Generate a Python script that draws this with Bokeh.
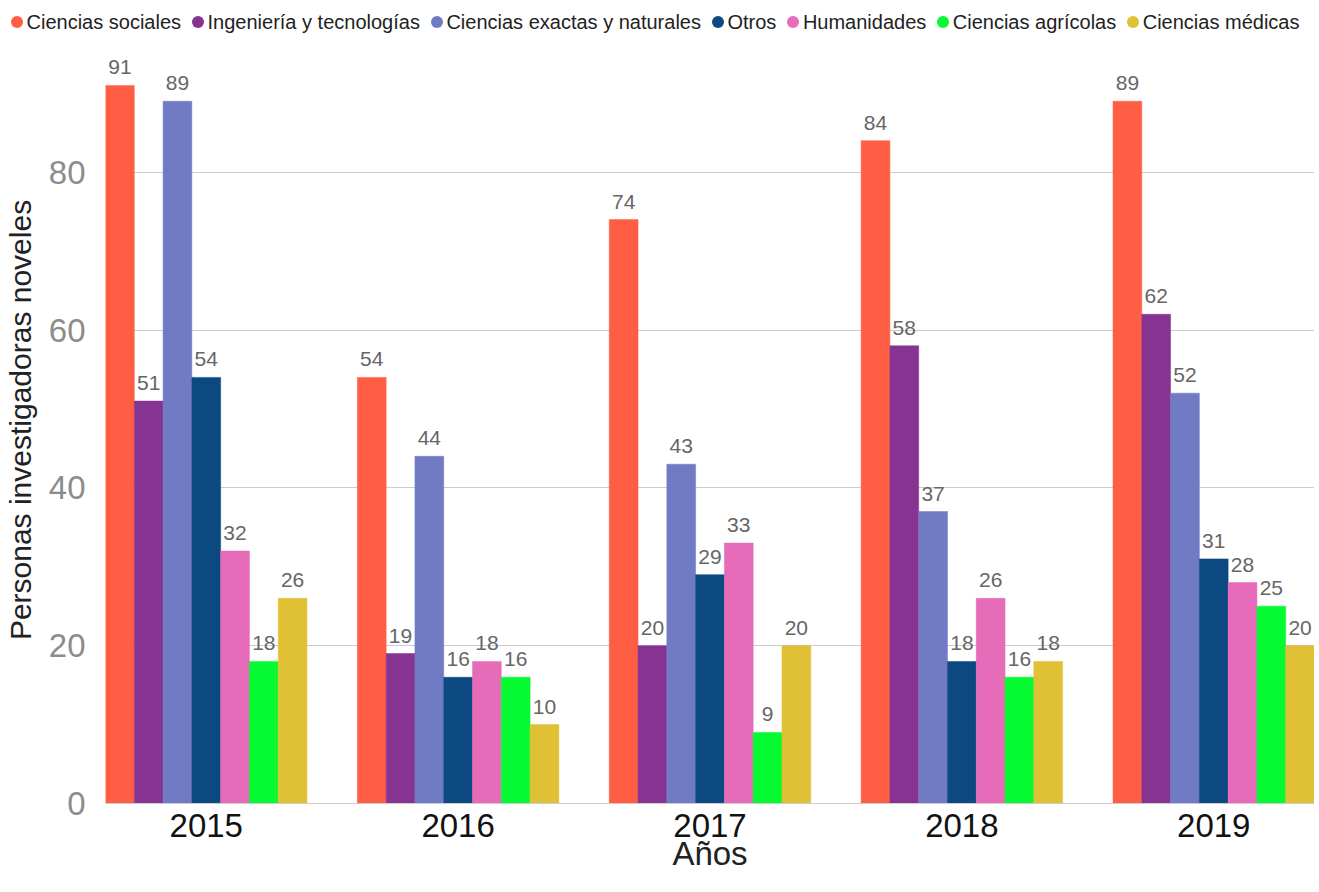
from bokeh.plotting import figure
from bokeh.layouts import column
from bokeh.models import ColumnDataSource, FixedTicker, Range1d, Div
from bokeh.transform import dodge
from bokeh.core.properties import value
from bokeh.embed import file_html
from bokeh.resources import INLINE

years = [2015, 2016, 2017, 2018, 2019]
categories = ["Ciencias sociales", "Ingeniería y tecnologías", "Ciencias exactas y naturales",
              "Otros", "Humanidades", "Ciencias agrícolas", "Ciencias médicas"]
ciencias_sociales = [91, 54, 74, 84, 89]
ingenieria_tecnologias = [51, 19, 20, 58, 62]
ciencias_exactas = [89, 44, 43, 37, 52]
otros = [54, 16, 29, 18, 31]
humanidades = [32, 18, 33, 26, 28]
ciencias_agricolas = [18, 16, 9, 16, 25]
ciencias_medicas = [26, 10, 20, 18, 20]
y_ticks = [0, 20, 40, 60, 80]

series = [ciencias_sociales, ingenieria_tecnologias, ciencias_exactas, otros,
          humanidades, ciencias_agricolas, ciencias_medicas]
colors = ["#ff5e45", "#873392", "#707bc4", "#0b4980", "#e66bb8", "#05fa32", "#e0c035"]

FONT = "Liberation Sans"
TOTAL_W = 1303
LEG_H = 36
FRAME_W = 1209
FRAME_H = 767

n = len(categories)
group_w = 0.8
bw = group_w / n
data = {"year": years}
for i, s in enumerate(series):
    data[f"s{i}"] = s
    data[f"t{i}"] = [str(v) for v in s]
src = ColumnDataSource(data)

# ---- legend strip (HTML so it can span the full width) ----
item_html = "".join(
    f'<span style="display:inline-flex;align-items:center;margin-right:11px;">'
    f'<span style="display:inline-block;width:12px;height:12px;border-radius:50%;'
    f'background:{c};margin-right:3.5px;"></span>{lab}</span>'
    for lab, c in zip(categories, colors))
legend_div = Div(
    text=(f'<div style="font-family:\'{FONT}\';font-size:20px;color:#222222;'
          f'white-space:nowrap;line-height:22px;padding-top:10px;padding-left:11px;">'
          f'{item_html}</div>'),
    width=TOTAL_W, height=LEG_H, margin=(0, 0, 0, 0))

# ---- main chart ----
p = figure(frame_width=FRAME_W, frame_height=FRAME_H, output_backend="svg", toolbar_location=None,
           x_range=Range1d(2014.6, 2019.4), y_range=Range1d(0, 97.2),
           min_border_left=94, min_border_right=0, min_border_top=0, min_border_bottom=0)

for i in range(n):
    off = (i - (n - 1) / 2) * bw
    p.vbar(x=dodge("year", off, range=p.x_range), top=f"s{i}", width=bw, source=src,
           fill_color=colors[i], line_color=colors[i], line_width=0.5)
    p.text(x=dodge("year", off, range=p.x_range), y=f"s{i}", text=f"t{i}", source=src,
           text_align="center", text_baseline="bottom", y_offset=-11,
           text_font=value(FONT), text_font_size="21px", text_color="#666666")

p.xaxis.ticker = FixedTicker(ticks=years)
p.xaxis.formatter.use_scientific = False
p.yaxis.ticker = FixedTicker(ticks=y_ticks)
p.ygrid.ticker = FixedTicker(ticks=y_ticks)
p.xgrid.grid_line_color = None
p.ygrid.grid_line_color = "#cccccc"
p.ygrid.grid_line_width = 1

p.xaxis.axis_label = "Años"
p.yaxis.axis_label = "Personas investigadoras noveles"
for ax in (p.xaxis, p.yaxis):
    ax.major_tick_line_color = None
    ax.minor_tick_line_color = None
    ax.axis_label_text_font = FONT
    ax.axis_label_text_font_style = "normal"
    ax.major_label_text_font = FONT
p.yaxis.axis_line_color = None
p.xaxis.axis_line_color = "#cccccc"
p.xaxis.major_label_text_font_size = "33px"
p.xaxis.major_label_text_color = "#111111"
p.xaxis.axis_label_text_font_size = "33px"
p.xaxis.axis_label_text_color = "#222222"
p.xaxis.major_label_standoff = 4
p.xaxis.axis_label_standoff = -5
p.yaxis.major_label_text_font_size = "33px"
p.yaxis.major_label_text_color = "#8c8c8c"
p.yaxis.major_label_standoff = 14
p.yaxis.axis_label_text_font_size = "30px"
p.yaxis.axis_label_text_color = "#222222"
p.yaxis.axis_label_standoff = 9
p.outline_line_color = None

layout = column(legend_div, p, spacing=0)
open("out.html", "w").write(file_html(layout, INLINE))
